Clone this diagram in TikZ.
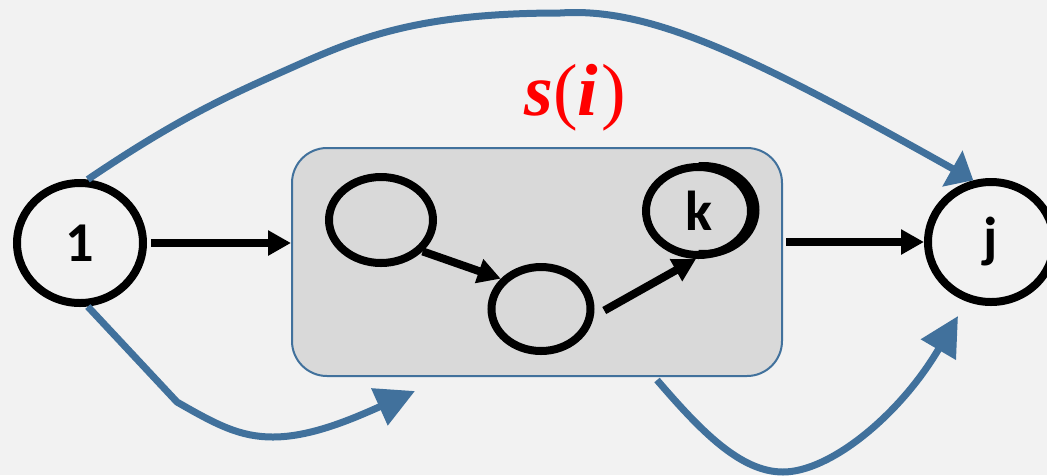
\documentclass[tikz,border=0pt]{standalone}
\usepackage{fontspec}
\usetikzlibrary{arrows.meta,calc,positioning,shapes.geometric}
\newfontfamily\labelfont{Carlito}
\newfontfamily\titlefont{Liberation Serif}
\definecolor{Canvas}{HTML}{F2F2F2}
\definecolor{BoxFill}{HTML}{D9D9D9}
\definecolor{Steel}{HTML}{41719C}
\definecolor{Alert}{HTML}{FF0000}
\tikzset{
  vertex/.style={
    ellipse, draw=black, line width=0.08cm, inner sep=0pt,
    minimum width=1.26cm, minimum height=1.20cm,
    font=\labelfont\bfseries\fontsize{16}{19}\selectfont
  },
  subvertex/.style={
    ellipse, draw=black, line width=0.08cm, inner sep=0pt,
    font=\labelfont\bfseries\fontsize{16}{19}\selectfont
  },
  cluster/.style={
    rounded corners=0.35cm, draw=Steel, line width=0.02cm, fill=BoxFill,
    minimum width=4.9cm, minimum height=2.28cm
  },
  flow/.style={-{Triangle[length=0.23cm,width=0.24cm]}, line width=0.08cm, draw=black},
  route/.style={-{Triangle[length=0.39cm,width=0.39cm]}, line width=0.07cm, draw=Steel}
}

\begin{document}
\begin{tikzpicture}[x=1cm,y=1cm]
    \path[use as bounding box, fill=Canvas] (0,0) rectangle (10.47,4.75);
    \node[cluster] (box) at (5.37,2.13) {};
    \node[text=Alert, font=\titlefont\fontsize{21}{24}\selectfont] (title) at (5.75,3.77)
      {\textbf{\textit{s\/}}(\textbf{\textit{i\/}}\kern0.04em)};
    \node[vertex] (n1) at (0.80,2.32) {1};
    \node[vertex] (nj) at (9.91,2.33) {j};
    \node[subvertex, minimum width=1.04cm, minimum height=0.86cm] (na) at (3.81,2.55) {};
    \node[subvertex, minimum width=0.99cm, minimum height=0.84cm] (nb) at (5.41,1.66) {};
    \node[subvertex, minimum width=1.05cm, minimum height=0.88cm] (nk) at (6.985,2.64) {k};
    % heavy rim on the right of k
    \begin{scope}
      \clip ($(nk.center)+(0,0.6)$) rectangle ($(nk.center)+(0.8,-0.6)$);
      \draw[line width=0.08cm] ($(nk.center)+(0.045,0.01)$) ellipse [x radius=0.525, y radius=0.44];
    \end{scope}
    % black flow
    \draw[flow, shorten <=0.04cm] (n1) -- (n1 -| box.west);
    \draw[flow, shorten <=0.03cm] (box.east |- nj) -- (nj);
    \draw[flow] (na.-37) -- (nb.143);
    \draw[flow, shorten <=0.12cm] (nb.-8) -- (nk.-93);
    % blue routes
    \coordinate (lefttip) at (4.15,0.84);
    \coordinate (rightfoot) at (6.57,0.95);
    \coordinate (righttip) at (9.58,1.59);
    \draw[route, -{Triangle[length=0.24cm,width=0.40cm]}] (n1.83)
      .. controls (1.8,3.58) and (2.3,3.8) .. (2.93,4.08)
      .. controls (3.6,4.38) and (4.2,4.62) .. (5.6,4.62)
      .. controls (6.5,4.68) and (7.5,4.2) .. (nj.106);
    \draw[route] (n1.-83) -- (1.77,0.73)
      .. controls (2.17,0.50) and (2.4,0.38) .. (2.73,0.38)
      .. controls (3.1,0.38) and (3.5,0.55) .. (lefttip);
    \draw[route] (rightfoot)
      .. controls (7.0,0.45) and (7.4,0.03) .. (7.83,0.03)
      .. controls (8.3,0.03) and (9.0,0.6) .. (righttip);
  \end{tikzpicture}
\end{document}
